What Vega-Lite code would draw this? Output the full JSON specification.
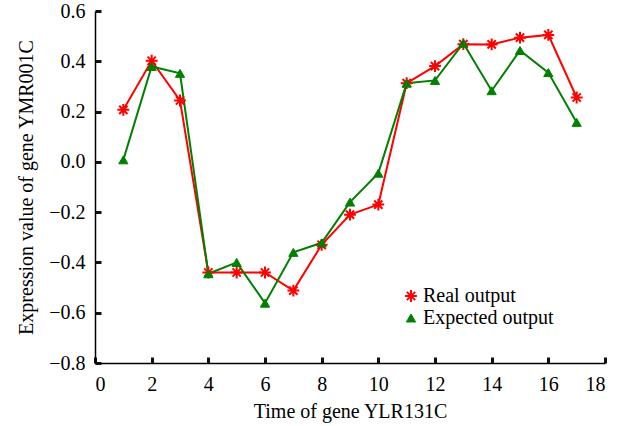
{
  "$schema": "https://vega.github.io/schema/vega-lite/v6.json",
  "width": 510,
  "height": 352,
  "autosize": "none",
  "padding": {"left": 95, "top": 11, "right": 17, "bottom": 63},
  "background": "white",
  "config": {
    "view": {"stroke": null},
    "font": "Liberation Serif",
    "axis": {
      "grid": false,
      "domainColor": "black",
      "domainWidth": 1.5,
      "labelFont": "Liberation Serif",
      "labelFontSize": 20,
      "labelColor": "black",
      "titleFont": "Liberation Serif",
      "titleFontSize": 20,
      "titleFontWeight": "normal",
      "titleColor": "black"
    },
    "legend": {"labelFont": "Liberation Serif", "labelFontSize": 20, "labelColor": "black"}
  },
  "resolve": {"axis": {"x": "independent", "y": "independent"}},
  "data": {
    "values": [
      {"t": 1, "v": 0.207, "series": "Real output"},
      {"t": 2, "v": 0.402, "series": "Real output"},
      {"t": 3, "v": 0.244, "series": "Real output"},
      {"t": 4, "v": -0.44, "series": "Real output"},
      {"t": 5, "v": -0.44, "series": "Real output"},
      {"t": 6, "v": -0.44, "series": "Real output"},
      {"t": 7, "v": -0.512, "series": "Real output"},
      {"t": 8, "v": -0.33, "series": "Real output"},
      {"t": 9, "v": -0.21, "series": "Real output"},
      {"t": 10, "v": -0.17, "series": "Real output"},
      {"t": 11, "v": 0.313, "series": "Real output"},
      {"t": 12, "v": 0.381, "series": "Real output"},
      {"t": 13, "v": 0.468, "series": "Real output"},
      {"t": 14, "v": 0.467, "series": "Real output"},
      {"t": 15, "v": 0.494, "series": "Real output"},
      {"t": 16, "v": 0.505, "series": "Real output"},
      {"t": 17, "v": 0.256, "series": "Real output"},
      {"t": 1, "v": 0.008, "series": "Expected output"},
      {"t": 2, "v": 0.379, "series": "Expected output"},
      {"t": 3, "v": 0.352, "series": "Expected output"},
      {"t": 4, "v": -0.445, "series": "Expected output"},
      {"t": 5, "v": -0.40, "series": "Expected output"},
      {"t": 6, "v": -0.562, "series": "Expected output"},
      {"t": 7, "v": -0.36, "series": "Expected output"},
      {"t": 8, "v": -0.322, "series": "Expected output"},
      {"t": 9, "v": -0.16, "series": "Expected output"},
      {"t": 10, "v": -0.045, "series": "Expected output"},
      {"t": 11, "v": 0.313, "series": "Expected output"},
      {"t": 12, "v": 0.324, "series": "Expected output"},
      {"t": 13, "v": 0.472, "series": "Expected output"},
      {"t": 14, "v": 0.283, "series": "Expected output"},
      {"t": 15, "v": 0.443, "series": "Expected output"},
      {"t": 16, "v": 0.355, "series": "Expected output"},
      {"t": 17, "v": 0.157, "series": "Expected output"}
    ]
  },
  "layer": [
    {
      "mark": {"type": "line", "strokeWidth": 2},
      "encoding": {
        "x": {
          "field": "t",
          "type": "quantitative",
          "scale": {"domain": [0, 18], "nice": false},
          "axis": {"orient": "bottom", "values": [0, 2, 4, 6, 8, 10, 12, 14, 16, 18], "title": "Time of gene YLR131C", "ticks": false, "tickSize": 0, "labelPadding": 11, "titlePadding": 7}
        },
        "y": {
          "field": "v",
          "type": "quantitative",
          "scale": {"domain": [-0.8, 0.6], "nice": false},
          "axis": {"orient": "left", "values": [-0.8, -0.6, -0.4, -0.2, 0, 0.2, 0.4, 0.6], "format": ".1f", "title": "Expression value of gene YMR001C", "ticks": false, "tickSize": 0, "labelPadding": 10, "titlePadding": 12}
        },
        "detail": {"field": "series"},
        "stroke": {"condition": {"test": "datum.series === 'Real output'", "value": "#ff0000"}, "value": "#008000"}
      }
    },
    {
      "mark": {"type": "point", "filled": true, "opacity": 1},
      "encoding": {
        "x": {
          "field": "t",
          "type": "quantitative",
          "axis": {"orient": "bottom", "values": [0, 2, 4, 6, 8, 10, 12, 14, 16, 18], "title": null, "labels": false, "domain": false, "ticks": true, "tickSize": 6, "tickColor": "#111111", "tickWidth": 3, "offset": -6}
        },
        "y": {
          "field": "v",
          "type": "quantitative",
          "axis": {"orient": "left", "values": [-0.8, -0.6, -0.4, -0.2, 0, 0.2, 0.4, 0.6], "title": null, "labels": false, "domain": false, "ticks": true, "tickSize": 6, "tickColor": "#111111", "tickWidth": 3, "offset": -6}
        },
        "color": {
          "field": "series",
          "type": "nominal",
          "scale": {"domain": ["Real output", "Expected output"], "range": ["#ff0000", "#008000"]},
          "legend": {
            "title": null,
            "orient": "none",
            "legendX": 306,
            "legendY": 275,
            "rowPadding": 2,
            "labelOffset": 2
          }
        },
        "stroke": {
          "field": "series",
          "type": "nominal",
          "scale": {"domain": ["Real output", "Expected output"], "range": ["#ff0000", "#008000"]}
        },
        "strokeWidth": {
          "field": "series",
          "type": "nominal",
          "scale": {"domain": ["Real output", "Expected output"], "range": [2, 1]}
        },
        "size": {
          "field": "series",
          "type": "nominal",
          "scale": {"domain": ["Real output", "Expected output"], "range": [140, 85]}
        },
        "shape": {
          "field": "series",
          "type": "nominal",
          "scale": {"domain": ["Real output", "Expected output"], "range": ["M-1,0L1,0M0,-1L0,1M-0.7,-0.7L0.7,0.7M-0.7,0.7L0.7,-0.7", "triangle-up"]}
        }
      }
    }
  ]
}
